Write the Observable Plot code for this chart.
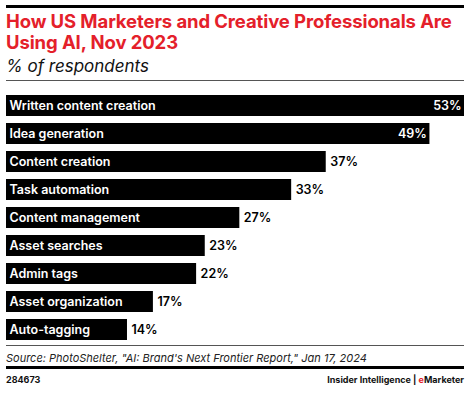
<!DOCTYPE html>
<html><head><meta charset="utf-8">
<script src="https://cdn.jsdelivr.net/npm/d3@7"></script>
<script src="https://cdn.jsdelivr.net/npm/@observablehq/plot@0.6"></script>
<style>
body{margin:0;background:#fff;font-family:Inter,"Noto Sans",sans-serif;}
#wrap{position:relative;width:470px;height:393px;overflow:hidden;}
.abs{position:absolute;}
#topRule{left:6px;top:5px;width:458px;height:3px;background:#000;}
#title{left:6px;top:11px;width:464px;color:#e4202a;font-weight:700;font-size:18.5px;line-height:21px;letter-spacing:-0.1px;white-space:nowrap;}
#sub{left:6px;top:56px;font-style:italic;font-size:17px;color:#111;}
#subRule{left:6px;top:80px;width:458px;height:1px;background:#555;}
#chart{left:0;top:85px;}
#srcRule{left:6px;top:345px;width:458px;height:1px;background:#555;}
#src{left:6px;top:351px;font-style:italic;font-size:11px;color:#222;}
#botRule{left:6px;top:366px;width:458px;height:3px;background:#000;}
#id{left:6px;top:374px;font-size:9px;font-weight:700;color:#111;}
#brand{right:6px;top:374px;font-size:9px;font-weight:700;color:#111;}
</style></head>
<body><div id="wrap">
<div class="abs" id="topRule"></div>
<div class="abs" id="title">How US Marketers and Creative Professionals Are<br>Using AI, Nov 2023</div>
<div class="abs" id="sub">% of respondents</div>
<div class="abs" id="subRule"></div>
<div class="abs" id="chart"></div>
<div class="abs" id="srcRule"></div>
<div class="abs" id="src">Source: PhotoShelter, "AI: Brand's Next Frontier Report," Jan 17, 2024</div>
<div class="abs" id="botRule"></div>
<div class="abs" id="id">284673</div>
<div class="abs" id="brand">Insider Intelligence | <span style="color:#e4202a">e</span>Marketer</div>
</div>
<script>
const categories = ["Written content creation","Idea generation","Content creation","Task automation","Content management","Asset searches","Admin tags","Asset organization","Auto-tagging"];
const values = [53,49,37,33,27,23,22,17,14];
const data = categories.map((c,i)=>({cat:c, v:values[i]}));
const inside = d => d.v >= 40;
const chart = Plot.plot({
  width:470, height:266,
  marginLeft:6, marginRight:6, marginTop:2, marginBottom:2,
  x:{domain:[0,53], axis:null},
  y:{domain:categories, axis:null, padding:0.24},
  style:{fontFamily:"Inter, 'Noto Sans', sans-serif"},
  marks:[
    Plot.barX(data,{x:"v", y:"cat", fill:"#000"}),
    Plot.text(data,{x:0, y:"cat", text:"cat", textAnchor:"start", dx:3, fill:"#fff", fontWeight:600, fontSize:12.5}),
    Plot.text(data.filter(inside),{x:"v", y:"cat", text:d=>d.v+"%", textAnchor:"end", dx:-3, fill:"#fff", fontWeight:600, fontSize:12.5}),
    Plot.text(data.filter(d=>!inside(d)),{x:"v", y:"cat", text:d=>d.v+"%", textAnchor:"start", dx:4, fill:"#000", fontWeight:600, fontSize:12.5})
  ]
});
document.getElementById("chart").appendChild(chart);
</script>
</body></html>
